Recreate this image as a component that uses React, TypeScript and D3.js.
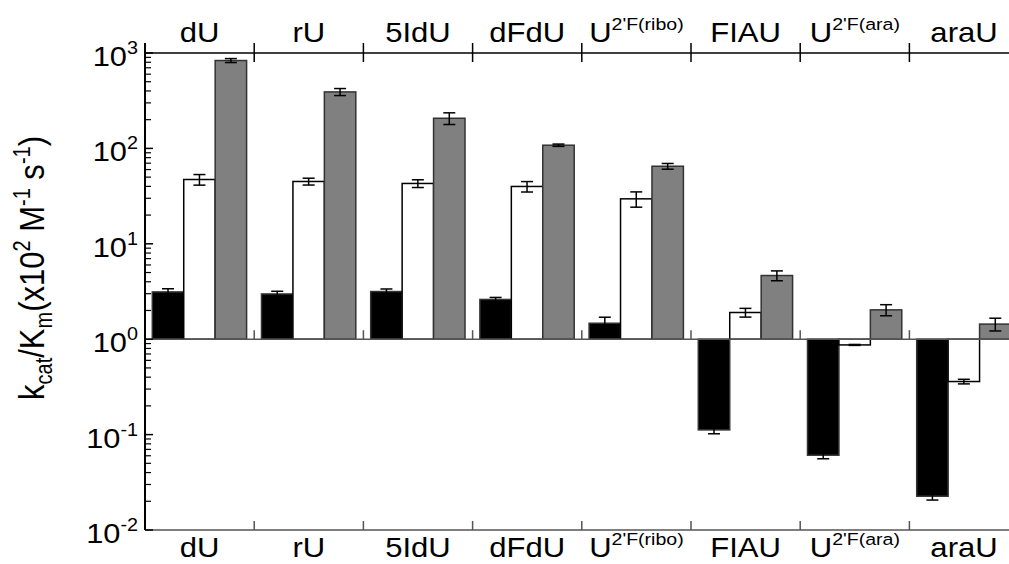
import React from "react";
import * as d3 from "d3";

const categoryBase = ["dU", "rU", "5IdU", "dFdU", "U", "FIAU", "U", "araU"];
const categorySup = ["", "", "", "", "2'F(ribo)", "", "2'F(ara)", ""];
const series = ["black", "white", "gray"];
const blackVals = [3.13, 2.98, 3.16, 2.61, 1.47, 0.112, 0.0608, 0.0226];
const blackErr = [0.25, 0.2, 0.2, 0.13, 0.23, 0.01, 0.005, 0.002];
const whiteVals = [47.2, 45, 42.9, 39.9, 29.6, 1.905, 0.871, 0.36];
const whiteErr = [6, 3.7, 4, 5, 5.4, 0.2, 0.01, 0.02];
const grayVals = [834, 391, 207, 108, 65, 4.65, 2.03, 1.44];
const grayErr = [40, 33, 29, 3, 4.5, 0.55, 0.27, 0.22];
const yTickExps = [3, 2, 1, 0, -1, -2];

const W = 1009;
const H = 564;
const left = 145;
const catW = 109.2;
const top = 53;
const bottom = 530;
const FONT = "'Liberation Sans', Arial, sans-serif";

export default function App() {
  const x = d3
    .scaleBand<string>()
    .domain(categoryBase.map((_, i) => String(i)))
    .range([left, left + catW * categoryBase.length])
    .padding(0);
  const inner = d3
    .scaleBand<string>()
    .domain(series)
    .range([7.3, catW - 7.6])
    .padding(0);
  const y = d3.scaleLog().domain([0.01, 1000]).range([bottom, top]);
  const y1 = y(1);

  const fills: Record<string, string> = { black: "#000", white: "#fff", gray: "#808080" };
  const strokes: Record<string, string> = { black: "#333", white: "#000", gray: "#333" };
  const vals: Record<string, number[]> = { black: blackVals, white: whiteVals, gray: grayVals };
  const errs: Record<string, number[]> = { black: blackErr, white: whiteErr, gray: grayErr };

  const minorTicks: number[] = [];
  for (let e = -2; e < 3; e++) {
    for (let m = 2; m <= 9; m++) minorTicks.push(m * Math.pow(10, e));
  }
  const boundaries = d3.range(0, categoryBase.length + 1).map((i) => left + i * x.bandwidth());

  return (
    <svg width={W} height={H} style={{ position: "absolute", left: 0, top: 0, background: "#fff" }} fontFamily={FONT}>
      <rect x={0} y={0} width={W} height={H} fill="#fff" />
      {categoryBase.map((_, i) =>
        series.map((s) => {
          const v = vals[s][i];
          const bx = (x(String(i)) as number) + (inner(s) as number);
          const bw = inner.bandwidth();
          const yv = y(v);
          return (
            <rect
              key={s + i}
              x={bx}
              y={Math.min(yv, y1)}
              width={bw}
              height={Math.abs(y1 - yv)}
              fill={fills[s]}
              stroke={strokes[s]}
              strokeWidth={1.5}
            />
          );
        })
      )}
      {categoryBase.map((_, i) =>
        series.map((s) => {
          const v = vals[s][i];
          const e = errs[s][i];
          const cx = (x(String(i)) as number) + (inner(s) as number) + inner.bandwidth() / 2;
          const ya = y(v + e);
          const yb = y(v - e);
          return (
            <g key={"e" + s + i} stroke="#000" strokeWidth={1.5}>
              <line x1={cx} x2={cx} y1={ya} y2={yb} />
              <line x1={cx - 6} x2={cx + 6} y1={ya} y2={ya} />
              <line x1={cx - 6} x2={cx + 6} y1={yb} y2={yb} />
            </g>
          );
        })
      )}
      <line x1={left} x2={W} y1={y1} y2={y1} stroke="#555" strokeWidth={1.5} />
      {boundaries.slice(1).map((bx, i) => (
        <line key={"mt" + i} x1={bx} x2={bx} y1={y1} y2={y1 - 9} stroke="#555" strokeWidth={1.5} />
      ))}
      <line x1={left} x2={W} y1={top} y2={top} stroke="#000" strokeWidth={1.5} />
      {boundaries.map((bx, i) => (
        <line key={"tt" + i} x1={bx} x2={bx} y1={top - 10} y2={top + 9} stroke="#000" strokeWidth={1.5} />
      ))}
      <line x1={left} x2={W} y1={bottom} y2={bottom} stroke="#555" strokeWidth={1.5} />
      {boundaries.slice(1).map((bx, i) => (
        <line key={"bt" + i} x1={bx} x2={bx} y1={bottom} y2={bottom - 9} stroke="#555" strokeWidth={1.5} />
      ))}
      <line x1={left} x2={left} y1={top - 10} y2={bottom} stroke="#000" strokeWidth={2} />
      {yTickExps.map((e) => (
        <line key={"mj" + e} x1={left} x2={left + 8} y1={y(Math.pow(10, e))} y2={y(Math.pow(10, e))} stroke="#000" strokeWidth={1.5} />
      ))}
      {minorTicks.map((t, i) => (
        <line key={"mn" + i} x1={left} x2={left + 6} y1={y(t)} y2={y(t)} stroke="#000" strokeWidth={1.2} />
      ))}
      {yTickExps.map((e) => (
        <text
          key={"yl" + e}
          transform={`translate(138,${y(Math.pow(10, e)) + 13}) scale(1.1,1)`}
          textAnchor="end"
          fontSize={28}
          fill="#000"
        >
          10
          <tspan fontSize={18} dy={-12}>
            {String(e)}
          </tspan>
        </text>
      ))}
      {categoryBase.map((c, i) => {
        const cx = (x(String(i)) as number) + x.bandwidth() / 2;
        return [42, 557].map((by) => (
          <text
            key={"c" + i + by}
            transform={`translate(${cx},${by}) scale(1.15,1)`}
            textAnchor="middle"
            fontSize={27}
            fill="#000"
          >
            {c}
            {categorySup[i] && (
              <tspan fontSize={17} dy={-12}>
                {categorySup[i]}
              </tspan>
            )}
          </text>
        ));
      })}
      <text transform={`translate(44,268) scale(1.15,1) rotate(-90)`} textAnchor="middle" fontSize={31} fill="#000">
        k<tspan fontSize={20} dy={7}>cat</tspan>
        <tspan dy={-7}>/K</tspan>
        <tspan fontSize={20} dy={7}>m</tspan>
        <tspan dy={-7}>(x10</tspan>
        <tspan fontSize={20} dy={-12}>2</tspan>
        <tspan dy={12}> M</tspan>
        <tspan fontSize={20} dy={-12}>-1</tspan>
        <tspan dy={12}> s</tspan>
        <tspan fontSize={20} dy={-12}>-1</tspan>
        <tspan dy={12}>)</tspan>
      </text>
    </svg>
  );
}
